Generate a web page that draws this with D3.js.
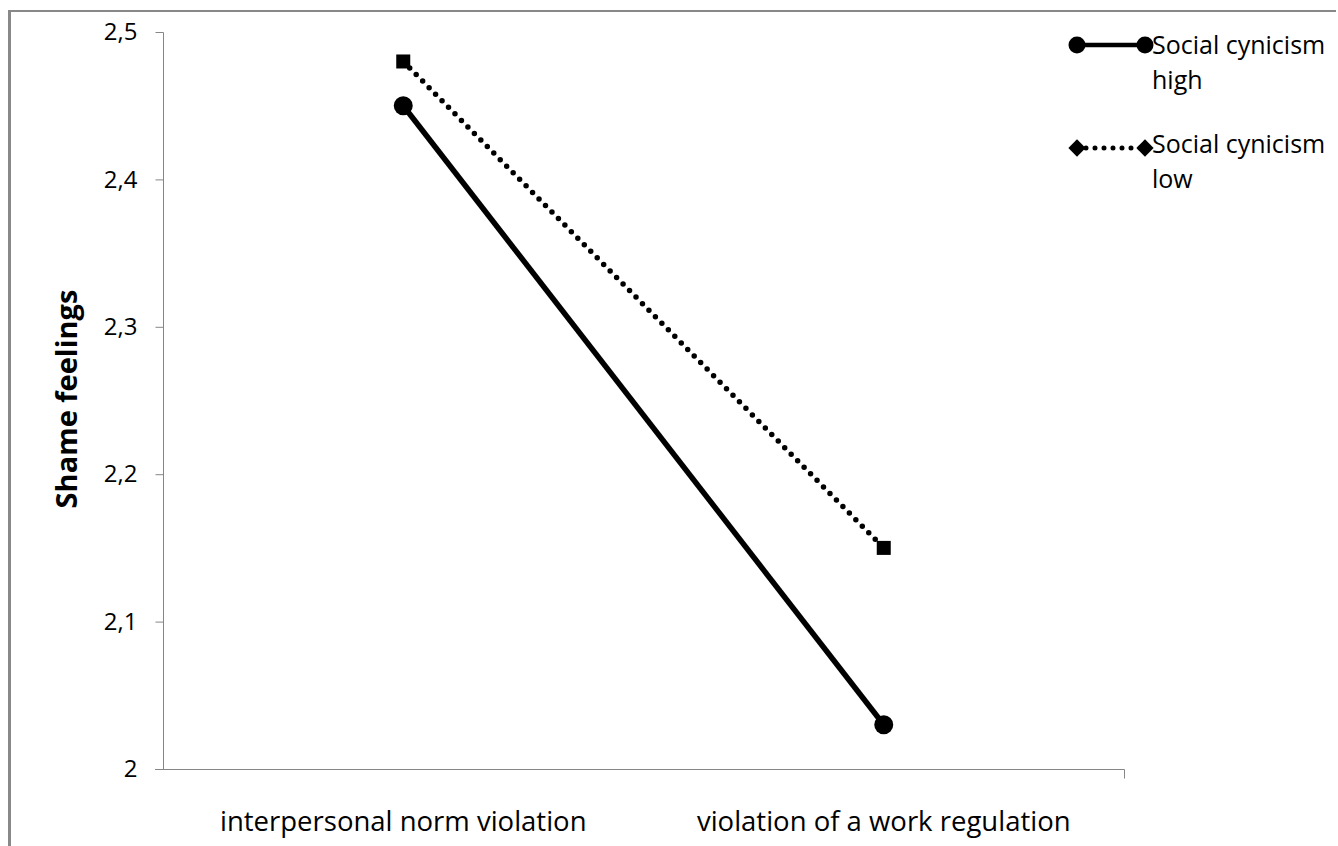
<!DOCTYPE html>
<html>
<head>
<meta charset="utf-8">
<script src="https://cdn.jsdelivr.net/npm/d3@7"></script>
<style>
  html, body { margin: 0; padding: 0; background: #fff; }
  svg { display: block; }
  text { font-family: "Open Sans", sans-serif; fill: #000; }
</style>
</head>
<body>
<svg id="chart" width="1338" height="846"></svg>
<script>
const categories = ["interpersonal norm violation", "violation of a work regulation"];
const highValues = [2.45, 2.03];
const lowValues = [2.48, 2.15];
const seriesNames = ["Social cynicism high", "Social cynicism low"];
const yTicks = [2, 2.1, 2.2, 2.3, 2.4, 2.5];
const yTitle = "Shame feelings";

const svg = d3.select("#chart");
const axisColor = "#868686";

// outer frame
svg.append("line").attr("x1", 9.5).attr("x2", 9.5).attr("y1", 10).attr("y2", 846)
  .attr("stroke", "#888").attr("stroke-width", 3);
svg.append("line").attr("x1", 8).attr("x2", 1336).attr("y1", 11).attr("y2", 11)
  .attr("stroke", "#888").attr("stroke-width", 2);

const x = d3.scaleBand().domain(categories).range([163, 1124]).padding(0);
const y = d3.scaleLinear().domain([2, 2.5]).range([769, 32]);
const cx = d => x(d) + x.bandwidth() / 2;

// y axis
const yAxis = svg.append("g").attr("transform", "translate(163.5,0)")
  .call(d3.axisLeft(y).tickValues(yTicks).tickSize(8).tickPadding(18)
    .tickFormat(d => d3.format(".1f")(d).replace(".", ",").replace(",0", "")));
yAxis.select(".domain").attr("stroke", axisColor).attr("d", "M0,32.5V769.5");
yAxis.selectAll(".tick line").attr("stroke", axisColor);
yAxis.selectAll(".tick text").attr("font-size", 24).attr("font-family", "Open Sans, sans-serif")
  .attr("fill", "#000").attr("dy", "0.32em");

// x axis
const xAxis = svg.append("g").attr("transform", "translate(0,769.5)");
xAxis.append("line").attr("x1", 155).attr("x2", 1124.5).attr("stroke", axisColor);
xAxis.append("line").attr("x1", 1124.5).attr("x2", 1124.5).attr("y1", 0).attr("y2", 9).attr("stroke", axisColor);
xAxis.selectAll("text.cat").data(categories).join("text").attr("class", "cat")
  .attr("x", d => cx(d)).attr("y", 61).attr("text-anchor", "middle")
  .attr("font-size", 27.5).text(d => d);

// y title
svg.append("text").attr("transform", "translate(77,399) rotate(-90)")
  .attr("text-anchor", "middle").attr("font-size", 29).attr("font-weight", "bold")
  .text(yTitle);

// lines
const line = d3.line().x(d => cx(d.c)).y(d => y(d.v));
const highData = categories.map((c, i) => ({ c, v: highValues[i] }));
const lowData = categories.map((c, i) => ({ c, v: lowValues[i] }));

svg.append("path").datum(lowData).attr("d", line).attr("fill", "none")
  .attr("stroke", "#000").attr("stroke-width", 5.5).attr("stroke-linecap", "round")
  .attr("stroke-dasharray", "0 9.2");
svg.append("path").datum(highData).attr("d", line).attr("fill", "none")
  .attr("stroke", "#000").attr("stroke-width", 5.5);

svg.selectAll("rect.low").data(lowData).join("rect").attr("class", "low")
  .attr("x", d => cx(d.c) - 7).attr("y", d => y(d.v) - 7)
  .attr("width", 14).attr("height", 14).attr("fill", "#000");
svg.selectAll("circle.high").data(highData).join("circle").attr("class", "high")
  .attr("cx", d => cx(d.c)).attr("cy", d => y(d.v)).attr("r", 9.5).attr("fill", "#000");

// legend
const lg = svg.append("g");
lg.append("line").attr("x1", 1077).attr("x2", 1145).attr("y1", 45).attr("y2", 45)
  .attr("stroke", "#000").attr("stroke-width", 4.5);
[1077, 1145].forEach(px => lg.append("circle").attr("cx", px).attr("cy", 45).attr("r", 8.5).attr("fill", "#000"));
lg.append("line").attr("x1", 1077).attr("x2", 1145).attr("y1", 148).attr("y2", 148)
  .attr("stroke", "#000").attr("stroke-width", 5).attr("stroke-linecap", "round")
  .attr("stroke-dasharray", "0 9");
[1077, 1145].forEach(px => lg.append("path")
  .attr("d", d3.symbol(d3.symbolDiamond2, 190)())
  .attr("transform", `translate(${px},148)`).attr("fill", "#000"));

function legendText(name, by) {
  const parts = name.split(" ");
  const t = lg.append("text").attr("x", 1152).attr("y", by).attr("font-size", 25);
  t.append("tspan").attr("x", 1152).attr("y", by).text(parts.slice(0, 2).join(" "));
  t.append("tspan").attr("x", 1152).attr("y", by + 35).text(parts.slice(2).join(" "));
}
legendText(seriesNames[0], 54);
legendText(seriesNames[1], 153);
</script>
</body>
</html>
